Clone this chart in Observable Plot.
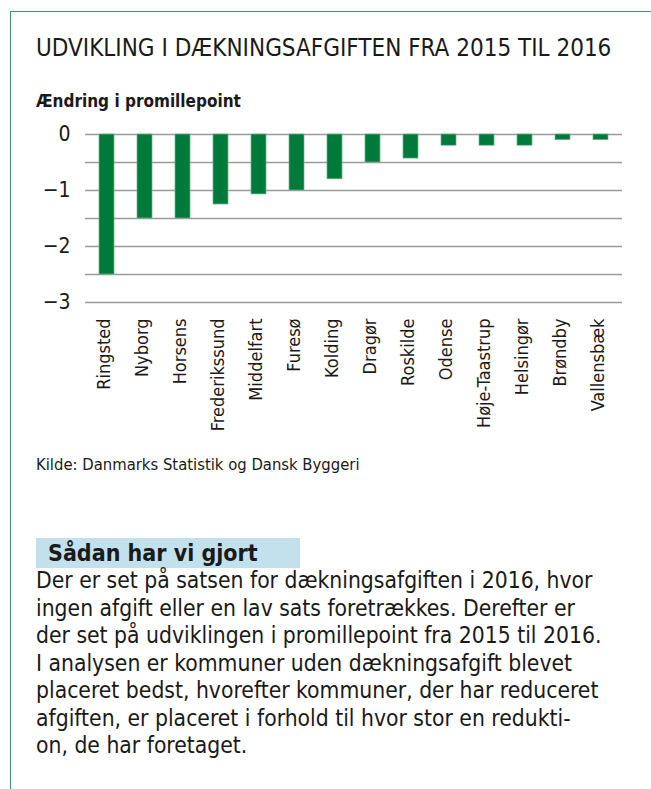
<!DOCTYPE html>
<html>
<head>
<meta charset="utf-8">
<script src="https://cdn.jsdelivr.net/npm/d3@7"></script>
<script src="https://cdn.jsdelivr.net/npm/@observablehq/plot@0.6"></script>
<style>
  html, body { margin: 0; padding: 0; background: #fff; }
  body { width: 651px; height: 789px; position: relative; overflow: hidden;
         font-family: "DejaVu Sans Condensed", "Liberation Sans Narrow", "DejaVu Sans", sans-serif;
         font-stretch: condensed; color: #1a1a1a; }
  .frame { position: absolute; left: 10px; top: 11px; width: 641px; height: 778px;
           border-top: 1.5px solid #3d9d60; border-left: 1.5px solid #3d9d60; box-sizing: border-box; }
  .abs { position: absolute; white-space: nowrap; }
  #title { left: 36px; top: 34px; font-size: 24px; line-height: 28px; }
  #subtitle { left: 36px; top: 90px; font-size: 17px; font-weight: bold; line-height: 22px; }
  #chart { left: 0; top: 110px; }
  #caption { left: 36px; top: 455px; font-size: 16.5px; line-height: 20px; }
  #boxhead { left: 36px; top: 538px; width: 264px; height: 30px; background: #c2e1ec;
             font-size: 23px; font-weight: bold; line-height: 30px; padding-left: 12px; box-sizing: border-box; }
  #para { left: 36px; top: 567px; font-size: 22.7px; line-height: 27.5px; }
</style>
</head>
<body>
<div class="frame"></div>
<div class="abs" id="title">UDVIKLING I DÆKNINGSAFGIFTEN FRA 2015 TIL 2016</div>
<div class="abs" id="subtitle">Ændring i promillepoint</div>
<div class="abs" id="chart"></div>
<div class="abs" id="caption">Kilde: Danmarks Statistik og Dansk Byggeri</div>
<div class="abs" id="boxhead">Sådan har vi gjort</div>
<div class="abs" id="para">Der er set på satsen for dækningsafgiften i 2016, hvor<br>ingen afgift eller en lav sats foretrækkes. Derefter er<br>der set på udviklingen i promillepoint fra 2015 til 2016.<br>I analysen er kommuner uden dækningsafgift blevet<br>placeret bedst, hvorefter kommuner, der har reduceret<br>afgiften, er placeret i forhold til hvor stor en redukti-<br>on, de har foretaget.</div>
<script>
const kommuner = ["Ringsted","Nyborg","Horsens","Frederikssund","Middelfart","Furesø","Kolding","Dragør","Roskilde","Odense","Høje-Taastrup","Helsingør","Brøndby","Vallensbæk"];
const aendring = [-2.5,-1.5,-1.5,-1.25,-1.07,-1.0,-0.8,-0.5,-0.43,-0.2,-0.2,-0.2,-0.1,-0.1];
const yTicks = [0,-1,-2,-3];
const gridTicks = [0,-0.5,-1,-1.5,-2,-2.5,-3];

const data = kommuner.map((k, i) => ({kommune: k, value: aendring[i]}));

const chart = Plot.plot({
  width: 651,
  height: 332,
  marginLeft: 85,
  marginRight: 29,
  marginTop: 24,
  marginBottom: 140,
  style: {fontFamily: '"DejaVu Sans Condensed", "Liberation Sans Narrow", "DejaVu Sans", sans-serif', fontStretch: "condensed", color: "#1a1a1a", background: "transparent"},
  x: {domain: kommuner, paddingInner: 0.61, paddingOuter: 0.31},
  y: {domain: [-3, 0]},
  marks: [
    Plot.gridY(gridTicks, {stroke: "#9a9a9a", strokeOpacity: 1, strokeWidth: 1.3}),
    Plot.barY(data, {x: "kommune", y: "value", fill: "#007a3b", stroke: "#6bb38a", strokeWidth: 0.7}),
    Plot.axisY(yTicks, {tickSize: 0, tickPadding: 15, fontSize: 21, label: null, tickFormat: d3.format("d")}),
    Plot.axisX({tickSize: 0, tickRotate: -90, tickPadding: 16, fontSize: 18, label: null, dx: -3})
  ]
});
document.getElementById("chart").appendChild(chart);
</script>
</body>
</html>
